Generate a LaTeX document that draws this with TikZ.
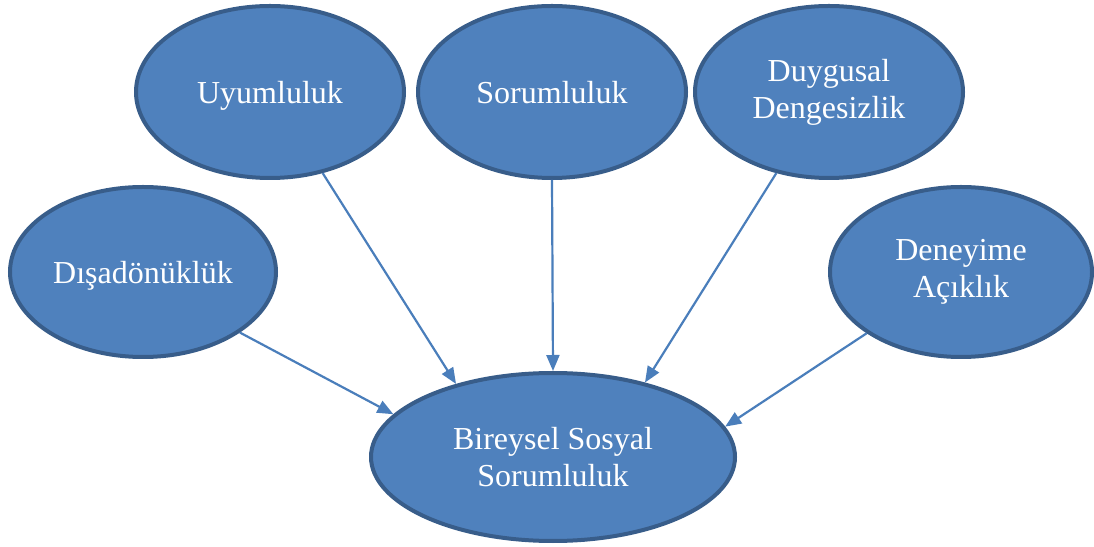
\documentclass[tikz,border=0pt]{standalone}
\usepackage{fontspec}
\setmainfont{Liberation Serif}
\usetikzlibrary{shapes.geometric,arrows.meta}
\definecolor{fillblue}{HTML}{4F81BD}
\definecolor{edgeblue}{HTML}{385D8A}
\definecolor{arrowblue}{HTML}{4A7EBB}
\newcommand{\oneline}[1]{\raisebox{-12pt}[0pt][0pt]{#1}}
\begin{document}
\begin{tikzpicture}[x=1pt,y=1pt,
  bubble/.style={ellipse, draw=edgeblue, fill=fillblue, line width=4pt, inner sep=0pt,
    text=white, align=center, font=\fontsize{32}{37}\selectfont},
  link/.style={draw=arrowblue, line width=2.2pt, -{Triangle[length=16pt,width=13pt]}}]
\useasboundingbox (0,0) rectangle (1094,546);
\node[bubble, minimum width=268pt, minimum height=172pt] (u) at (270,454) {\oneline{Uyumluluk}};
\node[bubble, minimum width=268pt, minimum height=172pt] (s) at (552,454) {\oneline{Sorumluluk}};
\node[bubble, minimum width=268pt, minimum height=172pt] (d) at (829,454) {Duygusal\\Dengesizlik};
\node[bubble, minimum width=266pt, minimum height=170pt] (x) at (143,274) {\oneline{Dışadönüklük}};
\node[bubble, minimum width=262pt, minimum height=170pt] (n) at (961,274) {Deneyime\\Açıklık};
\node[bubble, minimum width=364pt, minimum height=168pt] (b) at (553,89) {Bireysel Sosyal\\Sorumluluk};
\draw[link] (x.-32.7) -- (b.165.2);
\draw[link] (u.-57.5) -- (b.143.2);
\draw[link] (s.south) -- (b.north);
\draw[link] (d.237.7) -- (b.39.6);
\draw[link] (n.213.8) -- (b.10.7);
\end{tikzpicture}
\end{document}
